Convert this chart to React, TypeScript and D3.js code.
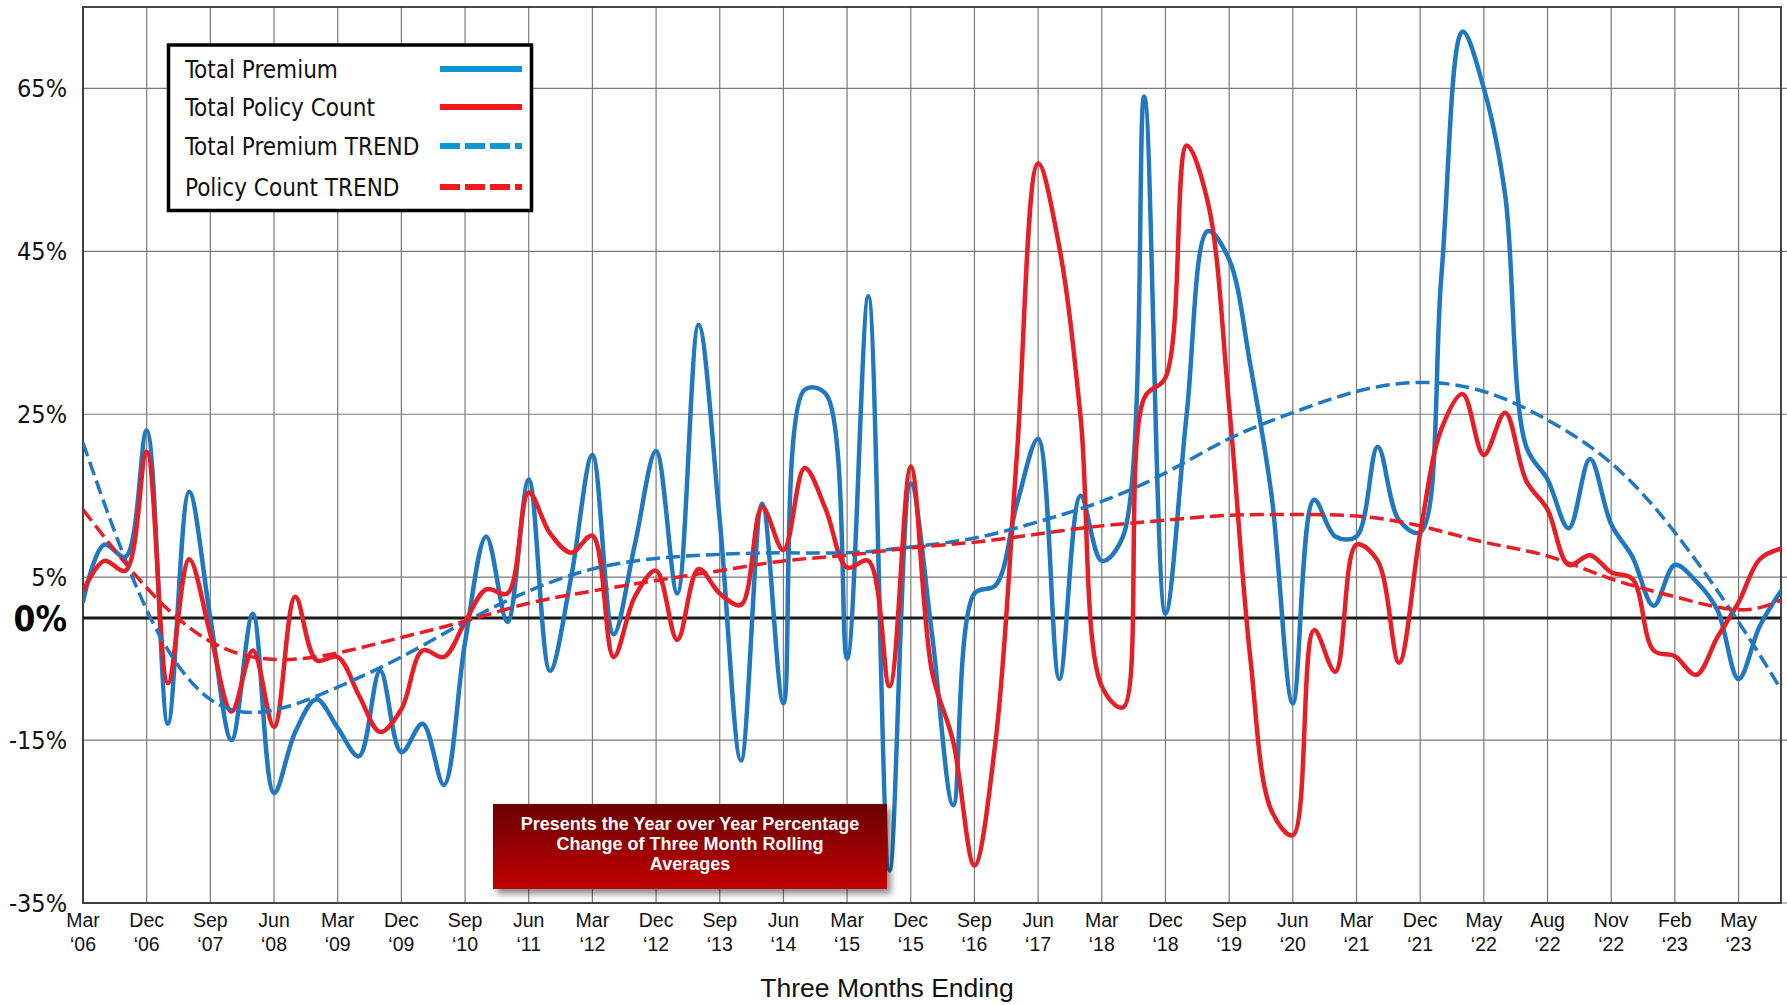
import * as d3 from 'd3'
import { useEffect } from 'react'

// quarterly through Mar '22, monthly after that
const categories = [
  "Mar ‘06", "Jun ‘06", "Sep ‘06", "Dec ‘06", "Mar ‘07", "Jun ‘07", "Sep ‘07", "Dec ‘07",
  "Mar ‘08", "Jun ‘08", "Sep ‘08", "Dec ‘08", "Mar ‘09", "Jun ‘09", "Sep ‘09", "Dec ‘09",
  "Mar ‘10", "Jun ‘10", "Sep ‘10", "Dec ‘10", "Mar ‘11", "Jun ‘11", "Sep ‘11", "Dec ‘11",
  "Mar ‘12", "Jun ‘12", "Sep ‘12", "Dec ‘12", "Mar ‘13", "Jun ‘13", "Sep ‘13", "Dec ‘13",
  "Mar ‘14", "Jun ‘14", "Sep ‘14", "Dec ‘14", "Mar ‘15", "Jun ‘15", "Sep ‘15", "Dec ‘15",
  "Mar ‘16", "Jun ‘16", "Sep ‘16", "Dec ‘16", "Mar ‘17", "Jun ‘17", "Sep ‘17", "Dec ‘17",
  "Mar ‘18", "Jun ‘18", "Sep ‘18", "Dec ‘18", "Mar ‘19", "Jun ‘19", "Sep ‘19", "Dec ‘19",
  "Mar ‘20", "Jun ‘20", "Sep ‘20", "Dec ‘20", "Mar ‘21", "Jun ‘21", "Sep ‘21", "Dec ‘21",
  "Mar ‘22", "Apr ‘22", "May ‘22", "Jun ‘22", "Jul ‘22", "Aug ‘22", "Sep ‘22", "Oct ‘22",
  "Nov ‘22", "Dec ‘22", "Jan ‘23", "Feb ‘23", "Mar ‘23", "Apr ‘23", "May ‘23", "Jun ‘23",
  "Jul ‘23"
]

const totalPremium = [
  2, 9, 7.5, 23, -13, 15.5, 0, -15, 0.5, -21.5, -14, -10, -13.5, -17, -6.5, -16.5,
  -13, -20.5, -3, 10, -0.5, 17, -6.5, 5, 20, -2, 9, 20.5, 3, 36, 12, -17.5,
  14, -10.5, 28, 27.5, -5, 39.5, -31, 16.5, -2, -23, 3, 4, 14, 22, -7.5, 15,
  7, 10, 64, 0.5, 25, 47.5, 44, 31, 15, -10.5, 14.5, 10, 10, 21, 12, 10.5,
  42, 72, 65, 52, 21, 17, 11, 19.5, 11.5, 7.5, 1.5, 6.5, 4.5, 1, -7.5, -1,
  3.3
]

const totalPolicyCount = [
  3.3, 7, 5.8, 20.4, -8, 7.2, -2, -11.5, -4, -13.4, 2.6, -5.2, -4.8, -9.5, -14, -11.2,
  -4, -4.8, -0.5, 3.5, 3, 15.4, 10.4, 8, 10.1, -4.8, 2.6, 5.8, -2.7, 6, 3, 1.6,
  13.6, 8.3, 18.4, 13.3, 6.2, 7, -8.4, 18.6, -6.6, -15.2, -30.4, -15, 20, 55.8, 45.5, 24.7,
  -8.4, -11, 27, 29.5, 58, 51, 26, -5, -23.7, -26.7, -1.5, -6.6, 9, 7, -5.5, 10.4,
  23.2, 27.5, 20, 25.2, 16.8, 13.3, 6.5, 7.7, 5.6, 4.8, -4, -4.7, -7, -2.4, 1.9, 7.2,
  8.5
]

// trend lines read at the labelled categories
const trendIndex = [0, 3, 6, 9, 12, 15, 18, 21, 24, 27, 30, 33, 36, 39, 42, 45, 48, 51, 54, 57, 60, 63, 66, 69, 72, 75, 78, 80]
const premiumTrend = [21.5, 1, -10, -11.3, -8.5, -4.8, -0.5, 3.3, 6, 7.3, 7.8, 8, 8, 8.7, 9.8, 11.8, 14.3, 17.8, 22, 25.2, 27.8, 28.9, 27.8, 24.3, 19, 10.5, -0.5, -8.8]
const policyTrend = [13.3, 3.7, -2.9, -5.1, -4.3, -2.4, -0.4, 1.8, 3.3, 4.6, 5.8, 7, 7.7, 8.6, 9.3, 10.3, 11.3, 12, 12.6, 12.7, 12.5, 11.3, 9.3, 7.6, 4.8, 2.6, 1, 2.2]

const yTicks = [65, 45, 25, 5, -15, -35]
const legendItems = [
  { label: 'Total Premium', color: '#0E96D2', dash: null },
  { label: 'Total Policy Count', color: '#F01A1A', dash: null },
  { label: 'Total Premium TREND', color: '#0E96D2', dash: '20 5' },
  { label: 'Policy Count TREND', color: '#F01A1A', dash: '20 5' }
]
const noteLines = ['Presents the Year over Year Percentage', 'Change of Three Month Rolling', 'Averages']

const BLUE = '#1F78C0'
const RED = '#E81E26'
const VERDANA = "'DejaVu Sans Condensed', 'DejaVu Sans', sans-serif"
const CALIBRI = "'Liberation Sans', Arial, sans-serif"

export default function App() {
  useEffect(() => {
    document.body.style.margin = '0'
    document.body.style.overflow = 'hidden'
  }, [])

  const W = 1787
  const H = 1005
  const left = 83
  const right = 1781
  const top = 7
  const bottom = 903

  const x = d3.scaleLinear().domain([0, categories.length - 1]).range([left, right])
  const y = d3.scaleLinear().domain([-35, 75]).range([bottom, top])

  const seriesLine = d3
    .line<number>()
    .x((_, i) => x(i))
    .y((d) => y(d))
    .curve(d3.curveCatmullRom.alpha(0.5))

  const trendLine = (vals: number[]) =>
    d3
      .line<number>()
      .x((_, i) => x(trendIndex[i]))
      .y((d) => y(d))
      .curve(d3.curveNatural)(vals)

  const tickIdx = categories.map((_, i) => i).filter((i) => i % 3 === 0)

  return (
    <svg width={W} height={H} style={{ display: 'block', background: '#fff' }}>
      <defs>
        <clipPath id="plot">
          <rect x={left} y={top} width={right - left} height={bottom - top} />
        </clipPath>
        <linearGradient id="noteFill" x1="0" y1="0" x2="0" y2="1">
          <stop offset="0%" stopColor="#6A0000" />
          <stop offset="100%" stopColor="#C20000" />
        </linearGradient>
        <filter id="shadow" x="-10%" y="-20%" width="130%" height="160%">
          <feDropShadow dx="4" dy="5" stdDeviation="3" floodColor="#000" floodOpacity="0.45" />
        </filter>
      </defs>

      {/* gridlines */}
      {yTicks.map((t) => (
        <line key={t} x1={left} x2={right + 6} y1={y(t)} y2={y(t)} stroke="#7a7a7a" strokeWidth={1.2} />
      ))}
      {tickIdx.map((i) => (
        <line key={i} x1={x(i)} x2={x(i)} y1={top} y2={bottom} stroke="#7a7a7a" strokeWidth={1.2} />
      ))}
      <rect x={left} y={top} width={right - left} height={bottom - top} fill="none" stroke="#333" strokeWidth={1.8} />
      <line x1={left} x2={right} y1={y(0)} y2={y(0)} stroke="#1a1a1a" strokeWidth={3} />

      {/* series */}
      <g clipPath="url(#plot)" fill="none" strokeLinejoin="round" strokeLinecap="round">
        <path d={seriesLine(totalPremium) ?? ''} stroke={BLUE} strokeWidth={4.5} />
        <path d={seriesLine(totalPolicyCount) ?? ''} stroke={RED} strokeWidth={4.5} />
        <path d={trendLine(premiumTrend) ?? ''} stroke={BLUE} strokeWidth={3.5} strokeDasharray="14 6" strokeLinecap="butt" />
        <path d={trendLine(policyTrend) ?? ''} stroke={RED} strokeWidth={3.5} strokeDasharray="14 6" strokeLinecap="butt" />
      </g>

      {/* y axis labels */}
      {yTicks.map((t) => (
        <text key={t} x={67} y={y(t)} dy="0.36em" textAnchor="end" fontFamily={VERDANA} fontStretch="condensed" fontSize={25} fill="#111">
          {t}%
        </text>
      ))}
      <text x={67} y={y(0)} dy="0.36em" textAnchor="end" fontFamily={VERDANA} fontStretch="condensed" fontWeight="bold" fontSize={35} fill="#000">
        0%
      </text>

      {/* x axis labels */}
      {tickIdx.map((i) => {
        const [m, yr] = categories[i].split(' ')
        return (
          <text key={i} x={x(i)} textAnchor="middle" fontFamily={CALIBRI} fontSize={19.5} fill="#111">
            <tspan x={x(i)} y={927}>{m}</tspan>
            <tspan x={x(i)} y={951}>{yr}</tspan>
          </text>
        )
      })}
      <text x={887} y={997} textAnchor="middle" fontFamily={CALIBRI} fontSize={26.5} fill="#111">
        Three Months Ending
      </text>

      {/* legend */}
      <rect x={168.5} y={45} width={363} height={165.5} fill="#fff" stroke="#000" strokeWidth={3.5} />
      {legendItems.map((it, k) => {
        const base = [78, 116, 155, 196][k]
        return (
          <g key={it.label}>
            <text x={185} y={base} fontFamily={VERDANA} fontStretch="condensed" fontSize={24} fill="#111">
              {it.label}
            </text>
            <line x1={440} x2={522} y1={base - 9} y2={base - 9} stroke={it.color} strokeWidth={6} strokeDasharray={it.dash ?? undefined} />
          </g>
        )
      })}

      {/* note box */}
      <rect x={493} y={804} width={394} height={85} fill="url(#noteFill)" filter="url(#shadow)" />
      {noteLines.map((t, k) => (
        <text key={t} x={690} y={830 + k * 20} textAnchor="middle" fontFamily={CALIBRI} fontWeight="bold" fontSize={18} fill="#fff">
          {t}
        </text>
      ))}
    </svg>
  )
}
